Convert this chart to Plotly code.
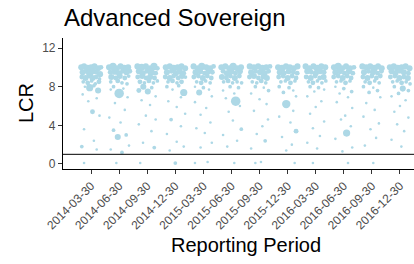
import plotly.graph_objects as go

quarters = ["2014-03-30", "2014-06-30", "2014-09-30", "2014-12-30",
            "2015-03-30", "2015-06-30", "2015-09-30", "2015-12-30",
            "2016-03-30", "2016-06-30", "2016-09-30", "2016-12-30"]

# (jitter offset, LCR, marker size) read per quarter
q_2014_03 = [(-0.35,10.0,5),(-0.25,10.1,5),(-0.12,9.9,6),(0.0,10.0,5),(0.12,10.1,5),(0.25,9.9,5),(0.35,10.0,4),
             (-0.3,9.5,5),(-0.18,9.6,4),(-0.05,9.4,6),(0.08,9.6,5),(0.2,9.5,4),(0.32,9.3,5),
             (-0.33,9.0,4),(-0.2,8.9,5),(-0.08,9.1,4),(0.05,8.9,5),(0.18,9.0,4),(0.3,8.8,3),
             (-0.28,8.5,3),(-0.12,8.4,4),(0.02,8.6,3),(0.15,8.3,3),(0.28,8.5,4),
             (-0.22,8.0,2),(0.1,8.1,3),(-0.05,7.9,6),(0.25,7.6,5),
             (-0.3,7.2,2),(0.2,6.8,2),(-0.1,6.5,2),(0.05,5.4,4),(0.3,5.0,2),(-0.25,3.6,2),
             (0.1,2.4,2),(-0.33,1.8,3),(0.2,1.5,2),(-0.25,0.1,2)]
q_2014_06 = [(-0.36,10.0,5),(-0.22,10.1,6),(-0.08,9.9,5),(0.05,10.1,5),(0.18,9.9,6),(0.32,10.0,5),
             (-0.32,9.5,4),(-0.15,9.6,6),(0.0,9.4,5),(0.12,9.6,4),(0.26,9.5,5),(0.38,9.6,4),
             (-0.28,9.0,5),(-0.12,8.9,4),(0.02,9.1,5),(0.2,8.9,4),(0.34,9.1,3),
             (-0.3,8.5,3),(-0.05,8.6,4),(0.1,8.4,3),(0.28,8.3,3),
             (-0.2,8.0,3),(0.15,7.8,2),(0.0,7.3,8),(-0.3,7.7,2),
             (0.3,6.9,2),(-0.15,6.3,2),(0.2,5.6,2),(-0.35,4.8,2),(0.05,4.3,2),(-0.2,3.5,3),
             (0.25,3.0,3),(-0.05,2.8,5),(0.35,1.9,2),(-0.3,1.5,2),(0.1,1.2,3),(-0.1,0.1,2)]
q_2014_09 = [(-0.35,10.1,5),(-0.2,10.0,6),(-0.05,10.1,5),(0.1,9.9,5),(0.24,10.1,6),(0.36,9.9,4),
             (-0.3,9.6,5),(-0.16,9.4,5),(-0.02,9.6,4),(0.14,9.5,6),(0.3,9.4,4),
             (-0.34,9.0,4),(-0.18,9.1,5),(-0.04,8.9,4),(0.1,9.0,5),(0.26,8.9,4),
             (-0.26,8.5,4),(-0.1,8.4,3),(0.06,8.6,4),(0.22,8.4,3),(0.36,8.6,3),
             (-0.14,8.0,5),(0.16,7.9,3),(-0.3,7.6,4),(0.02,7.5,5),
             (0.3,7.0,2),(-0.2,6.6,2),(0.1,6.1,2),(-0.05,5.0,2),(0.3,4.6,2),(-0.3,4.1,2),
             (0.15,3.4,2),(-0.15,2.2,2),(0.25,1.7,3),(-0.25,0.1,2)]
q_2014_12 = [(-0.34,10.0,5),(-0.2,10.1,5),(-0.06,9.9,6),(0.08,10.0,5),(0.22,10.1,5),(0.35,9.9,5),
             (-0.3,9.5,5),(-0.14,9.6,4),(0.02,9.4,5),(0.16,9.6,5),(0.3,9.4,4),
             (-0.36,9.0,4),(-0.2,8.9,5),(-0.06,9.1,4),(0.1,8.9,4),(0.24,9.1,5),(0.36,9.0,3),
             (-0.26,8.5,3),(-0.1,8.6,4),(0.06,8.4,3),(0.22,8.5,4),
             (-0.3,8.0,3),(0.12,8.1,3),(0.3,7.4,6),(-0.1,7.7,2),
             (0.2,6.9,2),(-0.25,6.5,2),(0.05,5.9,2),(0.35,5.2,2),(-0.15,4.6,3),(0.2,3.9,2),
             (-0.3,3.1,2),(0.05,2.3,2),(0.3,1.8,2),(-0.2,1.4,2),(0.0,0.1,3)]
q_2015_03 = [(-0.35,10.1,5),(-0.2,9.9,5),(-0.06,10.1,6),(0.1,10.0,5),(0.24,9.9,5),(0.36,10.1,4),
             (-0.28,9.5,5),(-0.12,9.6,5),(0.04,9.4,4),(0.18,9.6,5),(0.32,9.5,4),
             (-0.34,9.0,4),(-0.18,9.1,4),(-0.02,8.9,5),(0.14,9.1,4),(0.28,8.9,4),
             (-0.24,8.5,3),(-0.08,8.4,4),(0.08,8.6,3),(0.24,8.4,3),
             (-0.3,8.0,2),(0.0,7.9,3),(0.2,7.7,2),(-0.15,7.4,5),
             (0.3,7.0,2),(-0.3,6.4,2),(0.1,5.8,2),(-0.1,5.1,2),(0.25,4.3,2),(-0.25,3.7,2),
             (0.05,3.2,2),(0.3,2.2,2),(-0.1,1.7,2),(0.15,0.2,2),(-0.3,0.1,2)]
q_2015_06 = [(-0.36,10.0,5),(-0.22,10.1,5),(-0.08,9.9,5),(0.06,10.1,6),(0.2,9.9,5),(0.34,10.0,5),
             (-0.3,9.6,4),(-0.16,9.4,5),(0.0,9.6,5),(0.14,9.4,4),(0.3,9.6,5),
             (-0.34,9.0,5),(-0.18,8.9,4),(-0.04,9.1,4),(0.12,8.9,5),(0.28,9.1,4),
             (-0.28,8.5,3),(-0.12,8.6,4),(0.04,8.4,3),(0.2,8.5,3),(0.36,8.4,3),
             (-0.05,8.0,3),(0.25,7.9,3),(-0.3,7.6,2),(0.1,7.3,2),
             (0.15,6.5,8),(-0.2,6.8,2),(0.3,6.0,2),(-0.1,5.4,2),(0.05,4.5,2),(0.35,3.6,3),
             (-0.3,3.0,2),(0.2,2.4,2),(-0.15,1.8,2),(0.1,0.1,2)]
q_2015_09 = [(-0.35,10.1,5),(-0.2,10.0,5),(-0.05,10.1,5),(0.1,9.9,6),(0.24,10.0,5),(0.37,10.1,4),
             (-0.3,9.5,5),(-0.14,9.6,4),(0.02,9.5,5),(0.18,9.4,5),(0.32,9.6,4),
             (-0.36,9.0,4),(-0.2,9.1,5),(-0.04,8.9,4),(0.12,9.0,4),(0.26,8.9,5),
             (-0.26,8.5,3),(-0.1,8.4,3),(0.06,8.6,4),(0.22,8.4,3),
             (-0.15,8.0,3),(0.15,7.9,2),(0.32,7.6,3),(-0.3,7.3,2),
             (0.0,6.7,2),(0.25,6.2,2),(-0.2,5.5,2),(0.3,4.6,2),(0.1,3.9,2),(-0.1,3.1,2),
             (0.2,2.4,3),(-0.3,1.6,2),(0.05,0.2,2),(-0.15,0.1,2)]
q_2015_12 = [(-0.34,10.0,5),(-0.2,9.9,6),(-0.06,10.1,5),(0.08,10.0,5),(0.22,9.9,5),(0.35,10.1,5),
             (-0.28,9.5,5),(-0.12,9.4,4),(0.04,9.6,5),(0.2,9.5,4),(0.34,9.4,4),
             (-0.32,9.0,4),(-0.16,9.1,4),(0.0,8.9,5),(0.16,9.1,4),(0.3,8.9,4),
             (-0.24,8.5,3),(-0.08,8.6,3),(0.1,8.4,4),(0.26,8.6,3),
             (-0.3,8.0,3),(0.05,7.9,3),(0.2,7.6,2),(-0.15,7.4,3),
             (0.3,7.0,2),(-0.05,6.2,7),(0.2,5.5,2),(-0.3,4.9,2),(0.1,4.3,2),(0.3,3.4,4),
             (-0.2,2.8,2),(0.15,2.0,2),(-0.05,1.4,2),(0.25,0.1,2)]
q_2016_03 = [(-0.36,10.1,5),(-0.22,9.9,5),(-0.08,10.1,5),(0.06,9.9,6),(0.2,10.1,5),(0.34,10.0,5),
             (-0.3,9.6,5),(-0.16,9.5,4),(0.0,9.4,5),(0.16,9.6,5),(0.3,9.5,4),
             (-0.34,9.0,4),(-0.18,8.9,5),(-0.02,9.1,4),(0.14,8.9,4),(0.28,9.0,5),
             (-0.26,8.5,3),(-0.1,8.4,4),(0.06,8.6,3),(0.22,8.4,3),(0.36,8.6,3),
             (-0.2,8.0,3),(0.1,7.9,3),(0.3,7.7,2),(-0.05,7.5,2),
             (-0.3,7.0,2),(0.2,6.5,2),(0.0,5.9,2),(-0.2,5.2,2),(0.3,4.4,2),(-0.1,3.7,2),
             (0.15,2.9,2),(-0.3,2.2,2),(0.05,1.6,2),(-0.1,0.1,2)]
q_2016_06 = [(-0.35,10.0,5),(-0.2,10.1,6),(-0.06,9.9,5),(0.08,10.1,5),(0.22,9.9,5),(0.36,10.0,4),
             (-0.3,9.5,5),(-0.14,9.6,5),(0.02,9.4,4),(0.18,9.6,5),(0.32,9.4,4),
             (-0.36,9.0,4),(-0.2,9.1,4),(-0.04,8.9,5),(0.12,9.1,4),(0.26,8.9,4),
             (-0.26,8.5,3),(-0.1,8.6,3),(0.06,8.4,4),(0.22,8.6,3),
             (-0.3,8.0,2),(0.0,7.8,3),(0.28,7.5,3),(-0.15,7.3,2),
             (0.15,6.9,2),(-0.25,6.4,2),(0.3,5.8,2),(0.05,5.0,2),(-0.1,4.6,2),(0.25,3.9,2),
             (0.1,3.2,6),(-0.3,2.6,2),(0.3,1.7,2),(-0.05,1.3,2),(0.15,0.1,2)]
q_2016_09 = [(-0.34,10.1,5),(-0.2,10.0,5),(-0.06,10.1,5),(0.08,9.9,6),(0.22,10.1,5),(0.35,9.9,5),
             (-0.28,9.5,5),(-0.12,9.6,4),(0.04,9.5,5),(0.2,9.4,4),(0.34,9.6,4),
             (-0.32,9.0,4),(-0.16,8.9,5),(0.0,9.1,4),(0.16,8.9,4),(0.3,9.1,4),
             (-0.24,8.5,3),(-0.08,8.4,4),(0.1,8.6,3),(0.26,8.4,3),
             (-0.3,8.0,3),(0.05,7.9,2),(0.2,7.6,3),(-0.1,7.4,3),
             (0.3,6.9,2),(-0.2,6.3,2),(0.1,5.6,2),(-0.3,4.9,2),(0.25,4.2,2),(-0.05,3.6,2),
             (0.15,2.7,2),(-0.25,1.9,2),(0.05,0.1,2)]
q_2016_12 = [(-0.36,10.0,5),(-0.22,10.1,5),(-0.08,9.9,6),(0.06,10.0,5),(0.2,10.1,5),(0.34,9.9,5),
             (-0.3,9.6,5),(-0.16,9.4,5),(0.0,9.6,4),(0.14,9.5,5),(0.3,9.4,4),
             (-0.34,9.0,4),(-0.18,9.1,4),(-0.02,8.9,5),(0.14,9.0,4),(0.28,8.9,5),
             (-0.26,8.5,3),(-0.1,8.6,3),(0.06,8.4,4),(0.22,8.5,3),(0.36,8.3,3),
             (-0.2,8.0,3),(0.1,7.8,5),(0.3,7.6,3),(-0.05,7.3,3),
             (-0.3,7.0,2),(0.2,6.6,2),(0.0,6.0,2),(-0.2,5.4,2),(0.3,4.8,2),(-0.1,4.1,2),
             (0.15,3.4,2),(-0.3,2.5,2),(0.05,1.8,2)]

quarter_points = [q_2014_03, q_2014_06, q_2014_09, q_2014_12, q_2015_03, q_2015_06,
                  q_2015_09, q_2015_12, q_2016_03, q_2016_06, q_2016_09, q_2016_12]
y_ticks = [0, 4, 8, 12]
threshold = 1

xs, ys, ss = [], [], []
for i, pts in enumerate(quarter_points):
    for dx, y, s in pts:
        xs.append(i + 1 + dx)
        ys.append(y)
        ss.append(s * 1.15 + 0.3)

fig = go.Figure()
fig.add_trace(go.Scatter(x=xs, y=ys, mode="markers",
                         marker=dict(color="#ADD8E6", size=ss, line=dict(width=0), opacity=1),
                         hoverinfo="skip", showlegend=False, cliponaxis=False))
fig.add_shape(type="line", xref="paper", yref="y", x0=0, x1=1, y0=threshold, y1=threshold,
              line=dict(color="black", width=1))

font = "Liberation Sans, Arial, sans-serif"
fig.update_layout(
    width=414, height=264,
    margin=dict(l=63, r=0, t=38, b=95, autoexpand=False),
    paper_bgcolor="white", plot_bgcolor="white",
    font=dict(family=font),
    title=dict(text="Advanced Sovereign", x=64/414, xanchor="left", y=1-18/264, yanchor="middle",
               font=dict(size=24, color="black", family=font)),
    xaxis=dict(range=[0, 12.5], tickmode="array", tickvals=list(range(1, 13)), ticktext=quarters,
               tickangle=-45, tickfont=dict(size=12, color="#4D4D4D"), automargin=False,
               showgrid=False, zeroline=False, showline=True, linecolor="black", linewidth=1.2,
               ticks="outside", ticklen=4, tickcolor="#333333"),
    yaxis=dict(range=[-0.52, 13.04], tickmode="array", tickvals=y_ticks, automargin=False,
               tickfont=dict(size=12, color="#4D4D4D"),
               showgrid=False, zeroline=False, showline=True, linecolor="black", linewidth=1.2,
               ticks="outside", ticklen=4, tickcolor="#333333"),
    annotations=[
        dict(text="LCR", xref="paper", yref="paper", x=-37/351, y=(169-103)/131, xanchor="center", yanchor="middle",
             textangle=-90, showarrow=False, font=dict(size=20, color="black", family=font)),
        dict(text="Reporting Period", xref="paper", yref="paper", x=(246-63)/351, y=-(245-169)/131,
             xanchor="center", yanchor="middle", showarrow=False,
             font=dict(size=20, color="black", family=font)),
    ],
)
fig.write_html("out.html", config={"displayModeBar": False},
               post_script="document.body.style.margin='0';document.body.style.overflow='hidden';")
